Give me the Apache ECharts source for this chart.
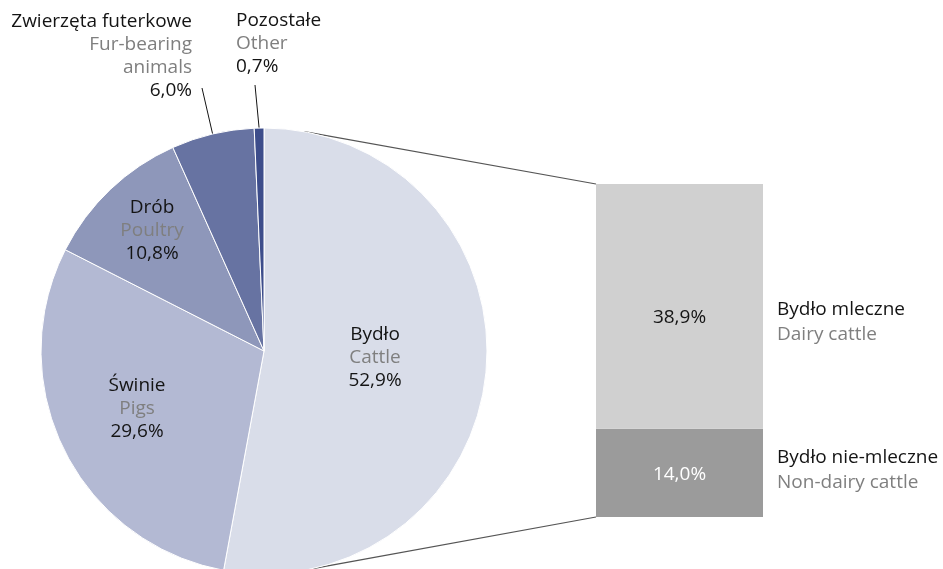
<!DOCTYPE html>
<html>
<head>
<meta charset="utf-8">
<script src="https://cdn.jsdelivr.net/npm/echarts@6/dist/echarts.min.js"></script>
<style>
  html, body { margin: 0; padding: 0; background: #fff; }
  #chart { width: 943px; height: 569px; }
</style>
</head>
<body>
<div id="chart"></div>
<script>
// dane
const pieNamesPl = ['Bydło', 'Świnie', 'Drób', 'Zwierzęta futerkowe', 'Pozostałe']
const pieNamesEn = ['Cattle', 'Pigs', 'Poultry', 'Fur-bearing\nanimals', 'Other']
const pieValues = [52.9, 29.6, 10.8, 6.0, 0.7]
const cattleNamesPl = ['Bydło nie-mleczne', 'Bydło mleczne']
const cattleNamesEn = ['Non-dairy cattle', 'Dairy cattle']
const cattleValues = [14.0, 38.9]

const FONT = '"Open Sans", sans-serif'
const FS = 19
const pieColors = ['#d9dde9', '#b3b9d3', '#8e97ba', '#6773a2', '#3d4d8b']
const barColors = ['#9b9b9b', '#d0d0d0']
const pieCenter = [264, 351]
const pieRadius = 223

// label positions (centre of text block)
const labelPos = [
  { x: 375, y: 358, align: 'center' },
  { x: 137, y: 409, align: 'center' },
  { x: 152, y: 231, align: 'center' },
  { x: 192, y: 56, align: 'right', end: [202, 88] },
  { x: 236, y: 44, align: 'left', end: [255, 85] },
]

const fmt = v => v.toFixed(1).replace('.', ',') + '%'

const rich = {
  pl: { color: '#141414', fontSize: FS, lineHeight: 23, fontFamily: FONT },
  en: { color: '#7f7f7f', fontSize: FS, lineHeight: 23, fontFamily: FONT },
}
// zrender text (graphic) uses fill
const richG = {
  pl: { fill: '#141414', fontSize: FS, lineHeight: 25, fontFamily: FONT },
  en: { fill: '#7f7f7f', fontSize: FS, lineHeight: 25, fontFamily: FONT },
}

const chart = echarts.init(document.getElementById('chart'))
chart.setOption({
  animation: false,
  grid: { left: 596, top: 184, width: 167, height: 333 },
  xAxis: { type: 'category', data: ['Bydło'], show: false },
  yAxis: { type: 'value', min: 0, max: 52.9, show: false },
  series: [
    {
      type: 'pie',
      center: pieCenter,
      radius: pieRadius,
      startAngle: 90,
      clockwise: true,
      itemStyle: { borderColor: '#fff', borderWidth: 1 },
      label: {
        position: 'inside',
        overflow: 'none',
        formatter: p => `{pl|${pieNamesPl[p.dataIndex]}}\n{en|${pieNamesEn[p.dataIndex]}}\n{pl|${fmt(p.value)}}`,
        rich: rich,
      },
      labelLine: { show: false },
      labelLayout: function (params) {
        const pos = labelPos[params.dataIndex]
        const out = { x: pos.x, y: pos.y, align: pos.align, verticalAlign: 'middle' }
        if (pos.end && params.labelLinePoints) {
          const start = params.labelLinePoints[0]
          out.labelLinePoints = [start, pos.end, pos.end]
        }
        return out
      },
      data: pieValues.map((v, i) => ({
        value: v,
        name: pieNamesPl[i],
        itemStyle: { color: pieColors[i] },
        label: i >= 3 ? { position: 'outside', overflow: 'none', width: 300 } : undefined,
        labelLine: i >= 3 ? { show: true, length: 10, length2: 10, lineStyle: { color: '#141414', width: 1 } } : undefined,
      })),
    },
    ...cattleValues.map((v, i) => ({
      type: 'bar',
      stack: 'cattle',
      barWidth: '100%',
      data: [v],
      itemStyle: { color: barColors[i] },
      label: {
        show: true,
        position: 'inside',
        offset: [0, i === 1 ? 11 : 2],
        formatter: p => fmt(p.value),
        color: i === 0 ? '#fff' : '#141414',
        fontSize: FS,
        fontFamily: FONT,
      },
    })),
  ],
})

// podpisy po prawej i linie łączące
const grid = chart.getModel().getComponent('grid').coordinateSystem.getRect()
const yTop = chart.convertToPixel({ yAxisIndex: 0 }, cattleValues[0] + cattleValues[1])
const ySplit = chart.convertToPixel({ yAxisIndex: 0 }, cattleValues[0])
const yBottom = chart.convertToPixel({ yAxisIndex: 0 }, 0)
const pt = deg => {
  const a = deg * Math.PI / 180
  return [pieCenter[0] + pieRadius * Math.sin(a), pieCenter[1] - pieRadius * Math.cos(a)]
}
const p1 = pt(10.4), p2 = pt(167.8)
const textLabel = (x, y, pl, en) => ({
  type: 'text', x: x, y: y,
  style: {
    text: `{pl|${pl}}\n{en|${en}}`, rich: richG,
    align: 'left', verticalAlign: 'middle',
  },
})
chart.setOption({
  graphic: [
    { type: 'line', shape: { x1: p1[0], y1: p1[1], x2: grid.x, y2: yTop }, style: { stroke: '#555', lineWidth: 1.2 } },
    { type: 'line', shape: { x1: p2[0], y1: p2[1], x2: grid.x, y2: yBottom }, style: { stroke: '#555', lineWidth: 1.2 } },
    textLabel(grid.x + grid.width + 14, (yTop + ySplit) / 2 + 16, cattleNamesPl[1], cattleNamesEn[1]),
    textLabel(grid.x + grid.width + 14, (ySplit + yBottom) / 2 - 3, cattleNamesPl[0], cattleNamesEn[0]),
  ],
})
</script>
</body>
</html>
